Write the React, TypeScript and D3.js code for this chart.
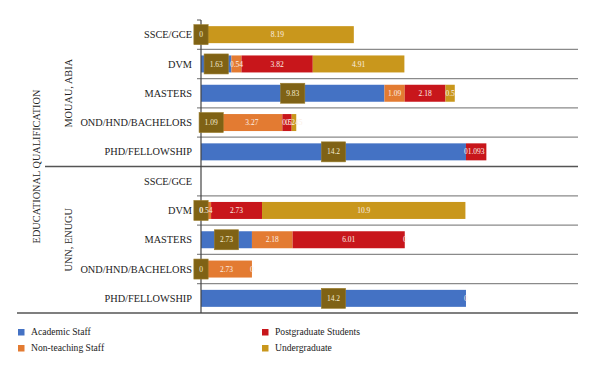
import React from "react";
import * as d3 from "d3";

const groups = ["MOUAU, ABIA", "UNN, ENUGU"];
const categories = ["SSCE/GCE", "DVM", "MASTERS", "OND/HND/BACHELORS", "PHD/FELLOWSHIP"];
const seriesNames = ["Academic Staff", "Non-teaching Staff", "Postgraduate Students", "Undergraduate"];
const seriesColors = ["#4472c4", "#e37b32", "#c8161b", "#c9971c"];

// values per row: MOUAU rows then UNN rows (null = no value)
const academic: (number | null)[] = [0, 1.63, 9.83, 1.09, 14.2, null, 0, 2.73, 0, 14.2];
const nonTeaching: (number | null)[] = [null, 0.54, 1.09, 3.27, 0, null, 0.54, 2.18, 2.73, 0];
const postgraduate: (number | null)[] = [null, 3.82, 2.18, 0.5, 1.093, null, 2.73, 6.01, 0, null];
const undergraduate: (number | null)[] = [8.19, 4.91, 0.5, 0.245, null, null, 10.9, 0, null, null];

const W = 600;
const H = 375;
const FONT = "Liberation Serif";

export default function App() {
  const rows = groups.flatMap((g) => categories.map((c) => `${g}|${c}`));
  const y = d3.scaleBand<string>().domain(rows).range([20, 313]).paddingInner(0.42).paddingOuter(0.21);
  const x = d3.scaleLinear().domain([0, 20]).range([201, 574.2]);
  const series = [academic, nonTeaching, postgraduate, undergraduate];
  const step = y.step();

  const segs: any[] = [];
  rows.forEach((r, i) => {
    let acc = 0;
    series.forEach((s, si) => {
      const v = s[i];
      if (v === null) return;
      segs.push({ row: r, si, v, x0: acc, x1: acc + v });
      acc += v;
    });
  });

  const boundaries = d3.range(0, rows.length + 1).map((k) => 20 + k * step);
  const ts = { fontFamily: FONT };

  return (
    <svg width={W} height={H} style={{ position: "absolute", left: 0, top: 0, background: "#fff" }}>
      {boundaries.slice(1, -1).map((b, k) => (
        <line key={k} x1={k === 4 ? 45 : 197} x2={578} y1={b} y2={b} stroke={k === 4 ? "#555" : "#8a8a8a"} strokeWidth={1.3} />
      ))}
      <line x1={17} x2={578} y1={boundaries[rows.length]} y2={boundaries[rows.length]} stroke="#555" strokeWidth={1.3} />
      <line x1={197} x2={201} y1={20} y2={20} stroke="#555" strokeWidth={1} />
      {segs.map((s, k) => (
        <rect key={k} x={x(s.x0)} y={y(s.row)!} width={x(s.x1) - x(s.x0)} height={y.bandwidth()} fill={seriesColors[s.si]} />
      ))}
      <line x1={201} x2={201} y1={20} y2={boundaries[rows.length]} stroke="#444" strokeWidth={1.2} />
      {segs.map((s, k) => {
        const cx = (x(s.x0) + x(s.x1)) / 2;
        const cy = y(s.row)! + y.bandwidth() / 2;
        const txt = String(s.v);
        if (s.si === 0) {
          const tw = txt.length * 3.3 + 1;
          const bw = tw + 10;
          return (
            <g key={k}>
              <rect x={cx - bw / 2} y={cy - 10} width={bw} height={20} fill="#7f6215" stroke="#9a7d2c" strokeWidth={0.6} />
              <text x={cx} y={cy + 2.6} textAnchor="middle" fontSize={7.5} fill="#f3ead0" style={ts}>{txt}</text>
            </g>
          );
        }
        return (
          <text key={k} x={cx} y={cy + 2.6} textAnchor="middle" fontSize={7.5} fill="#fbefe6" style={ts}>{txt}</text>
        );
      })}
      {rows.map((r) => (
        <text key={r} x={192} y={y(r)! + y.bandwidth() / 2 + 3.6} textAnchor="end" fontSize={10.3} fill="#222" style={ts}>{r.split("|")[1]}</text>
      ))}
      {groups.map((g, gi) => {
        const cy = 20 + (gi * 5 + 2.5) * step;
        return (
          <text key={g} transform={`translate(72,${cy}) rotate(-90)`} textAnchor="middle" fontSize={10.3} fill="#222" style={ts}>{g}</text>
        );
      })}
      <text transform={`translate(40,${20 + 5 * step}) rotate(-90)`} textAnchor="middle" fontSize={10.3} fill="#222" style={ts}>EDUCATIONAL QUALIFICATION</text>
      {seriesNames.map((n, i) => {
        const lx = i < 2 ? 18 : 262;
        const ly = i % 2 === 0 ? 329 : 345;
        return (
          <g key={n}>
            <rect x={lx} y={ly} width={6.5} height={6.5} fill={seriesColors[i]} />
            <text x={lx + 13} y={ly + 6.2} fontSize={9.6} fill="#222" style={ts}>{n}</text>
          </g>
        );
      })}
    </svg>
  );
}
